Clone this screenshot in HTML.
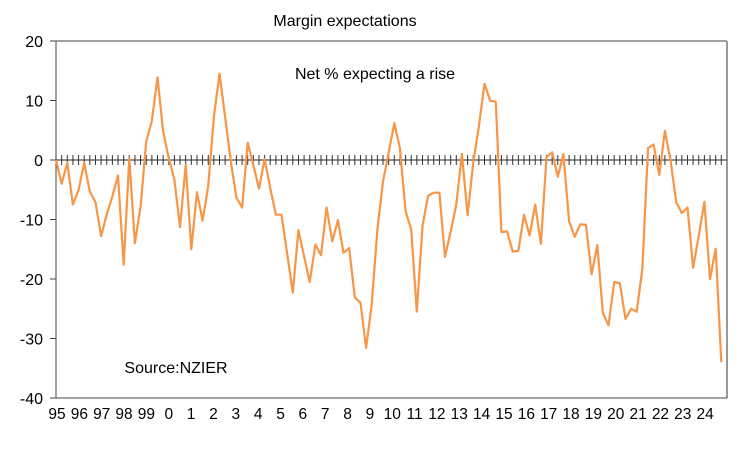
<!DOCTYPE html>
<html><head><meta charset="utf-8"><style>
body{margin:0;background:#fff;}
svg text{font-family:"Liberation Sans",sans-serif;fill:#000;}
</style></head><body>
<svg width="740" height="444" viewBox="0 0 740 444">
<text x="345" y="26" font-size="16" text-anchor="middle">Margin expectations</text>
<text x="375" y="79" font-size="16" text-anchor="middle">Net % expecting a rise</text>
<text x="176" y="373" font-size="16" text-anchor="middle">Source:NZIER</text>
<g id="axes"></g>
<polyline id="line" fill="none" stroke="#f79646" stroke-width="2.2" stroke-linejoin="round"/>
</svg>
<script>
const values=[0,-4,-0.5,-7.5,-5,-0.5,-5.3,-7.1,-12.8,-9.2,-6.1,-2.6,-17.6,0.3,-14,-7.8,3.1,6.5,13.9,4.8,0.3,-3.3,-11.3,-0.8,-15,-5.4,-10.2,-4.4,7.3,14.5,7.3,-0.2,-6.3,-8,2.9,-0.8,-4.8,0.2,-4.7,-9.2,-9.2,-15.8,-22.3,-11.8,-16.2,-20.5,-14.2,-16,-8,-13.7,-10.1,-15.6,-14.8,-23.1,-24,-31.6,-24.3,-11.7,-3.6,1.2,6.2,2,-8.6,-11.7,-25.5,-11.1,-6,-5.5,-5.5,-16.3,-12,-7.5,1,-9.3,-0.5,5.7,12.8,10,9.8,-12.1,-12,-15.4,-15.3,-9.2,-12.7,-7.5,-14.1,0.5,1.3,-2.8,1,-10.3,-12.9,-10.8,-10.9,-19.2,-14.3,-25.7,-27.8,-20.5,-20.7,-26.7,-25,-25.5,-18.2,2,2.6,-2.5,4.9,-0.1,-7.1,-8.9,-8,-18.1,-12.8,-7,-20,-14.9,-34];
const yTicks=[20,10,0,-10,-20,-30,-40];
const yearLabels=["95","96","97","98","99","0","1","2","3","4","5","6","7","8","9","10","11","12","13","14","15","16","17","18","19","20","21","22","23","24"];
const L=56,R=727,T=41,B=398,ymin=-40,ymax=20;
const qw=(721.3-L)/118;
const xs=i=>L+i*qw;
const ys=v=>T+(ymax-v)/(ymax-ymin)*(B-T);
const NS="http://www.w3.org/2000/svg";
const g=document.getElementById('axes');
function mk(t,a){const e=document.createElementNS(NS,t);for(const k in a)e.setAttribute(k,a[k]);g.appendChild(e);return e;}
// frame
let e=mk('line',{x1:L,y1:T,x2:R,y2:T,stroke:'#444','stroke-width':1});


e=mk('line',{x1:R,y1:T,x2:R,y2:B,stroke:'#999','stroke-width':2});


e=mk('line',{x1:L,y1:T,x2:L,y2:B,stroke:'#444','stroke-width':1});


e=mk('line',{x1:L,y1:B,x2:R,y2:B,stroke:'#444','stroke-width':1});


yTicks.forEach(v=>{
 const y=ys(v);
 let t=mk('line',{x1:L-6,y1:y,x2:L,y2:y,stroke:'#444','stroke-width':1});
 
 
 let tx=mk('text',{x:43,y:y+6,'font-size':16,'text-anchor':'end'});
 tx.textContent=String(v);
 
 
});
const y0=ys(0);
e=mk('line',{x1:L,y1:y0,x2:R,y2:y0,stroke:'#222','stroke-width':1});


for(let i=0;i<=118;i++){
 let t=mk('line',{x1:xs(i),y1:y0-5,x2:xs(i),y2:y0+5,stroke:'#333','stroke-width':1});
 
 
}
yearLabels.forEach((s,k)=>{
 let tx=mk('text',{x:57+k*22.35,y:419,'font-size':15.5,'text-anchor':'middle'});
 tx.textContent=s;
 
 
});
document.getElementById('line').setAttribute('points',values.map((v,i)=>xs(i).toFixed(1)+','+ys(v).toFixed(1)).join(' '));
</script>
</body></html>
